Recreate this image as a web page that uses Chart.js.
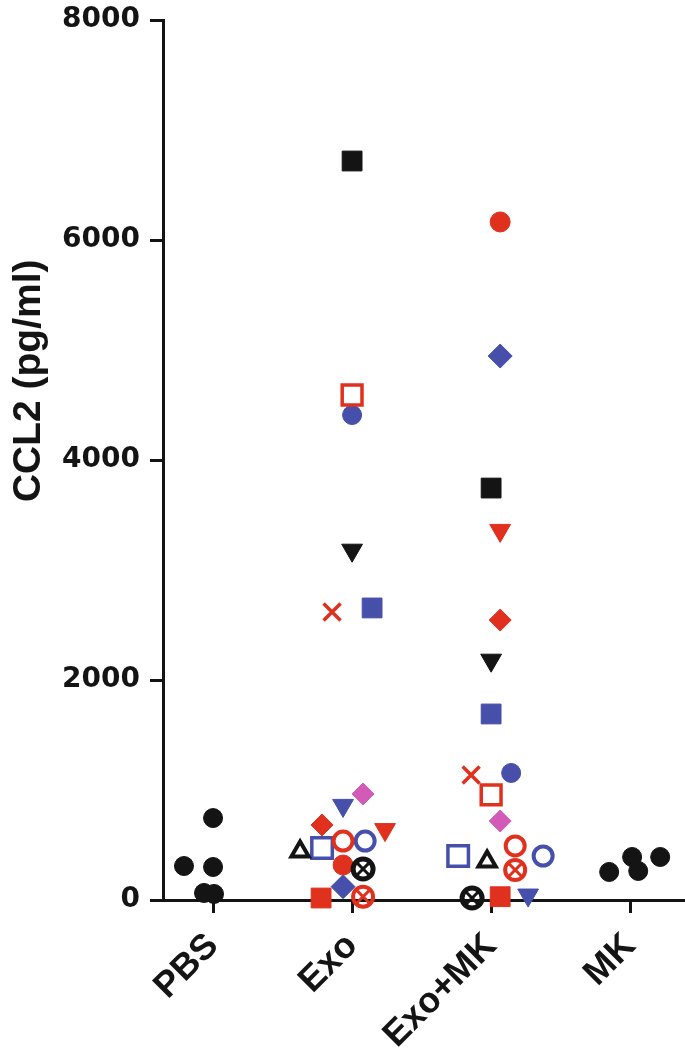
<!DOCTYPE html>
<html>
<head>
<meta charset="utf-8">
<script src="https://cdn.jsdelivr.net/npm/chart.js@4.4.0/dist/chart.umd.min.js"></script>
<style>
  html, body { margin: 0; padding: 0; background: #fff; overflow: hidden; }
  #wrap { width: 685px; height: 1064px; position: relative; }
</style>
</head>
<body>
<div id="wrap"><canvas id="ccl2"></canvas></div>
<script>
const categories = ['PBS', 'Exo', 'Exo+MK', 'MK'];
const yTicks = [0, 2000, 4000, 6000, 8000];
const yLabel = 'CCL2 (pg/ml)';

// each point: [group index + jitter, CCL2 in pg/ml]
const blackCircles = [[-0.209, 309], [0.0, 745], [0.0, 300], [-0.065, 64], [0.007, 55],
                      [2.849, 255], [3.014, 391], [3.058, 264], [3.216, 391]];
const blackSquares = [[1.0, 6718], [2.0, 3745]];
const blackDownTri = [[1.0, 3180], [2.0, 2180]];
const blackOpenTri = [[0.626, 440], [1.971, 350]];
const blackCircleX = [[1.079, 282], [1.863, 18]];
const redCircles = [[0.935, 318], [2.065, 6164]];
const redSquares = [[0.777, 18], [2.065, 30]];
const redOpenSquares = [[1.0, 4591], [2.0, 955]];
const redDownTri = [[1.237, 640], [2.065, 3360]];
const redDiamonds = [[0.784, 682], [2.065, 2545]];
const redCrosses = [[0.856, 2618], [1.856, 1136]];
const redOpenCircles = [[0.935, 536], [2.173, 491]];
const redCircleX = [[1.079, 30], [2.173, 273]];
const blueCircles = [[1.0, 4409], [2.144, 1155]];
const blueSquares = [[1.144, 2655], [2.0, 1691]];
const blueDiamonds = [[0.935, 121], [2.065, 4945]];
const blueDownTri = [[0.935, 860], [2.266, 45]];
const blueOpenSquares = [[0.784, 473], [1.763, 400]];
const blueOpenCircles = [[1.094, 536], [2.374, 400]];
const pinkDiamonds = [[1.079, 964], [2.065, 718]];

const BLACK = '#141414';
const RED = '#e0301e';
const BLUE = '#4650aa';
const PINK = '#d35bb8';
const NONE = 'rgba(0,0,0,0)';

// build a scatter dataset for one symbol type
function series(points, style, color, radius, opts = {}) {
  const filled = opts.open ? NONE : color;
  return {
    data: points.map(p => ({ x: p[0], y: p[1] })),
    pointStyle: style,
    pointRadius: radius,
    pointHoverRadius: radius,
    pointBackgroundColor: filled,
    pointBorderColor: color,
    pointBorderWidth: opts.width || 1,
    pointRotation: opts.rotation || 0,
    clip: false
  };
}

const datasets = [
  series(blackCircles, 'circle', BLACK, 9.5),
  series(blackSquares, 'rect', BLACK, 14),
  series(blackDownTri, 'triangle', BLACK, 12, { rotation: 180 }),
  series(blackOpenTri, 'triangle', BLACK, 10, { open: true, width: 4 }),
  series(blackCircleX, 'circle', BLACK, 10, { open: true, width: 5 }),
  series(blackCircleX, 'crossRot', BLACK, 10, { width: 3 }),
  series(redCircles, 'circle', RED, 10),
  series(redSquares, 'rect', RED, 14),
  series(redOpenSquares, 'rect', RED, 14, { open: true, width: 3.5 }),
  series(redDownTri, 'triangle', RED, 12, { rotation: 180 }),
  series(redDiamonds, 'rectRot', RED, 11),
  series(redCrosses, 'crossRot', RED, 12, { width: 3.5 }),
  series(redOpenCircles, 'circle', RED, 9.5, { open: true, width: 4 }),
  series(redCircleX, 'circle', RED, 10, { open: true, width: 4 }),
  series(redCircleX, 'crossRot', RED, 10, { width: 3 }),
  series(blueCircles, 'circle', BLUE, 9.5),
  series(blueSquares, 'rect', BLUE, 14),
  series(blueDiamonds, 'rectRot', BLUE, 12),
  series(blueDownTri, 'triangle', BLUE, 12, { rotation: 180 }),
  series(blueOpenSquares, 'rect', BLUE, 14.5, { open: true, width: 3.5 }),
  series(blueOpenCircles, 'circle', BLUE, 9.5, { open: true, width: 4 }),
  series(pinkDiamonds, 'rectRot', PINK, 11)
];

// y axis title, drawn a bit above the middle like the original
const yTitlePlugin = {
  id: 'yTitle',
  afterDraw(chart) {
    const { ctx, chartArea } = chart;
    ctx.save();
    ctx.translate(29, chartArea.top + chartArea.height * 0.41);
    ctx.rotate(-Math.PI / 2);
    ctx.font = 'bold 39px "Liberation Sans", Arial, sans-serif';
    ctx.fillStyle = BLACK;
    ctx.textAlign = 'center';
    ctx.textBaseline = 'middle';
    ctx.fillText(yLabel, 0, 0);
    ctx.restore();
  }
};

const noPadding = axis => {
  axis.paddingLeft = 0;
  axis.paddingRight = 0;
  axis.paddingTop = 0;
  axis.paddingBottom = 0;
};

new Chart(document.getElementById('ccl2'), {
  type: 'scatter',
  data: { datasets: datasets },
  plugins: [yTitlePlugin],
  options: {
    responsive: true,
    maintainAspectRatio: false,
    animation: false,
    layout: { autoPadding: false, padding: { top: 20, right: 2, left: 0, bottom: 0 } },
    plugins: {
      legend: { display: false },
      tooltip: { enabled: false }
    },
    scales: {
      x: {
        type: 'linear',
        min: -0.36,
        max: 3.38,
        afterBuildTicks: axis => { axis.ticks = categories.map((c, i) => ({ value: i })); },
        afterFit: axis => { axis.height = 164; noPadding(axis); },
        ticks: {
          autoSkip: false,
          minRotation: 45,
          maxRotation: 45,
          padding: 12,
          color: BLACK,
          font: { family: '"Liberation Sans", Arial, sans-serif', weight: 'bold', size: 36 },
          callback: v => categories[v]
        },
        grid: { drawOnChartArea: false, drawTicks: true, tickLength: 13, lineWidth: 3, color: BLACK },
        border: { display: true, width: 3, color: BLACK }
      },
      y: {
        min: 0,
        max: 8000,
        afterBuildTicks: axis => { axis.ticks = yTicks.map(v => ({ value: v })); },
        afterFit: axis => { axis.width = 163; noPadding(axis); },
        ticks: {
          padding: 10,
          color: BLACK,
          font: { family: '"DejaVu Sans", sans-serif', weight: 'bold', size: 28 },
          callback: v => String(v)
        },
        grid: { drawOnChartArea: false, drawTicks: true, tickLength: 13, lineWidth: 3, color: BLACK },
        border: { display: true, width: 3, color: BLACK }
      }
    }
  }
});
</script>
</body>
</html>
